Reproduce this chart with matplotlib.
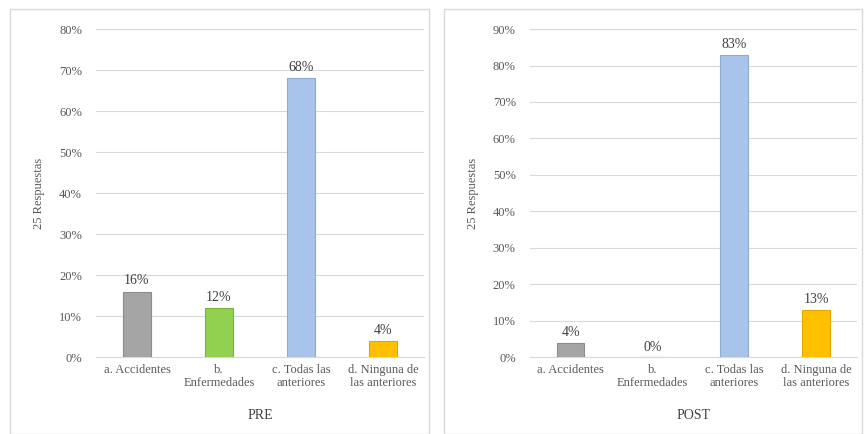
import matplotlib.pyplot as plt
from matplotlib.patches import Rectangle

categorias = ['a. Accidentes', 'b.\nEnfermedades', 'c. Todas las\nanteriores', 'd. Ninguna de\nlas anteriores']
pre = [16, 12, 68, 4]
post = [4, 0, 83, 13]
colores = ['#a5a5a5', '#92d050', '#a9c4eb', '#ffc000']
bordes = ['#8c8c8c', '#7ab33c', '#8faad4', '#e0a800']

plt.rcParams['font.family'] = ['Liberation Serif', 'DejaVu Serif']

fig = plt.figure(figsize=(8.64, 4.34), dpi=100)

# marcos de cada grafico
for x0, w in [(0.012, 0.484), (0.514, 0.484)]:
    fig.patches.append(Rectangle((x0, 0.0), w, 0.98, transform=fig.transFigure,
                                 fill=False, edgecolor='#d9d9d9', linewidth=1))


def panel(pos, valores, ymax, titulo):
    ax = fig.add_axes(pos)
    x = range(len(valores))
    ax.bar(x, valores, width=0.34, color=colores, edgecolor=bordes, linewidth=0.8, zorder=3)
    for i, v in enumerate(valores):
        ax.text(i, v + 1.0, f'{v}%', ha='center', va='bottom', fontsize=10, color='#404040')
    ax.set_xlim(-0.5, 3.5)
    ax.set_ylim(0, ymax)
    ax.set_yticks(range(0, ymax + 1, 10))
    ax.set_yticklabels([f'{t}%' for t in range(0, ymax + 1, 10)])
    ax.set_xticks(list(x))
    ax.set_xticklabels(categorias, linespacing=1.15)
    ax.tick_params(axis='both', length=0, labelsize=9, colors='#595959')
    ax.tick_params(axis='y', pad=10)
    ax.tick_params(axis='x', pad=5)
    ax.grid(axis='y', color='#d9d9d9', linewidth=0.8, zorder=0)
    for s in ['top', 'right', 'left']:
        ax.spines[s].set_visible(False)
    ax.spines['bottom'].set_color('#d9d9d9')
    ax.set_ylabel('25 Respuestas', fontsize=9, color='#595959', labelpad=10)
    ax.set_xlabel(titulo, fontsize=10, color='#404040', labelpad=14)
    return ax


panel([0.111, 0.177, 0.380, 0.756], pre, 80, 'PRE')
panel([0.613, 0.177, 0.379, 0.756], post, 90, 'POST')

plt.savefig('out.png', dpi=100)
